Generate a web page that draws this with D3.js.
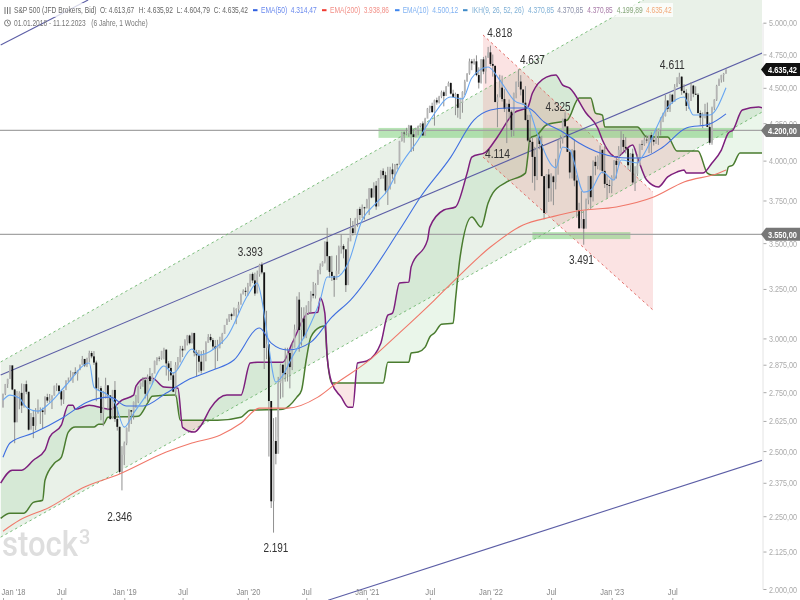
<!DOCTYPE html>
<html>
<head>
<meta charset="utf-8">
<script src="https://cdn.jsdelivr.net/npm/d3@7"></script>
<style>
  html, body { margin: 0; padding: 0; background: #fff; }
  svg { display: block; filter: blur(0.35px); }
  text { font-family: "Liberation Sans", Arial, sans-serif; }
</style>
</head>
<body>
<svg id="graph"></svg>
<script>
/* weekly bars, one entry per week, week 0 = 01.01.2018 */
var firstOpen = 2683;
var closes = [
  2743,2786,2810,2872,2762,2619,2732,2747,2691,2786,2752,2588,2641,2604,2656,2670,2670,2663,2728,2713,2721,2735,2779,2780,2755,2718,2759,2801,2802,2819,2840,2833,2850,2874,2902,2872,2905,2930,2914,2885,2767,2768,2659,2723,2781,2736,2633,2760,2633,2600,2417,2485,2532,
  2596,2671,2665,2707,2708,2776,2793,2804,2743,2822,2800,2834,2893,2907,2905,2940,2946,2881,2860,2826,2752,2873,2886,2950,2942,2990,3014,2977,3026,2932,2919,2889,2847,2926,2979,3007,2992,2961,2952,2970,2986,3022,3066,3093,3120,3110,3140,3146,3168,3221,3240,3235,
  3265,3330,3295,3226,3328,3380,3338,2954,2972,2711,2305,2541,2489,2790,2875,2837,2831,2930,2864,2955,3044,3194,3041,3098,3009,3130,3185,3224,3215,3271,3351,3372,3397,3508,3427,3341,3319,3298,3348,3477,3484,3465,3270,3510,3585,3558,3638,3699,3663,3709,3703,3756,
  3824,3768,3841,3714,3887,3934,3907,3811,3842,3943,3913,3975,3973,4129,4185,4180,4181,4233,4174,4156,4204,4230,4247,4166,4281,4352,4370,4327,4411,4395,4437,4468,4441,4509,4535,4458,4433,4455,4357,4391,4471,4545,4605,4697,4682,4697,4594,4538,4712,4620,4725,4766,
  4677,4663,4398,4432,4501,4419,4349,4385,4329,4204,4463,4543,4546,4488,4393,4272,4132,4123,4024,3901,4158,4109,3901,3675,3911,3825,3899,3863,3961,4130,4145,4280,4228,4057,3924,4067,3873,3693,3585,3639,3583,3752,3901,3770,3992,3965,4026,4071,3934,3852,3845,3839,
  3895,3999,3972,4070,4136,4090,4079,3970,4045,3861,3916,3970,4109,4105,4138,4133,4169,4136,4124,4192,4205,4282,4299,4409,4348,4450,4399,4505,4536,4582,4478,4464,4370,4406,4516,4457,4450,4320,4288,4309,4327,4224,4117,4358,4415,4514,4559,4594,4604,4635
];
var highs = [
  2743,2787,2810,2873,2835,2763,2755,2754,2789,2787,2802,2742,2659,2672,2680,2718,2683,2682,2732,2743,2742,2736,2779,2790,2775,2746,2760,2804,2816,2848,2841,2863,2851,2876,2916,2900,2908,2941,2939,2939,2894,2816,2778,2756,2815,2776,2691,2760,2800,2685,2601,2520,2539,
  2597,2675,2670,2709,2738,2776,2793,2818,2816,2830,2860,2836,2894,2910,2915,2940,2955,2946,2892,2892,2841,2887,2911,2964,2964,2996,3017,3018,3028,3028,2945,2944,2939,2944,2986,3021,3022,3002,2992,2993,3008,3027,3066,3098,3120,3127,3154,3150,3183,3226,3248,3258,
  3282,3330,3338,3337,3348,3385,3393,3338,3137,2882,2680,2637,2641,2819,2880,2875,2955,2955,2945,2980,3068,3211,3233,3155,3155,3165,3186,3238,3287,3280,3352,3387,3399,3510,3588,3425,3429,3320,3432,3486,3550,3494,3465,3530,3645,3628,3646,3699,3712,3726,3712,3760,
  3826,3824,3862,3870,3887,3938,3950,3929,3960,3960,3982,3978,3982,4130,4191,4195,4218,4238,4237,4210,4219,4234,4249,4262,4287,4356,4372,4393,4415,4429,4442,4480,4480,4513,4546,4540,4486,4465,4457,4429,4475,4559,4608,4718,4714,4717,4743,4652,4714,4731,4740,4808,
  4818,4749,4664,4453,4596,4590,4490,4386,4416,4340,4465,4546,4637,4593,4471,4512,4308,4307,4154,4090,4158,4178,4164,3837,3913,3946,3919,3904,4012,4140,4167,4280,4325,4203,4060,4076,4139,3906,3736,3807,3686,3762,3902,3905,4001,4028,4034,4100,4052,4100,3908,3878,
  3906,4004,4015,4095,4195,4176,4156,4050,4049,4078,3964,4039,4110,4134,4164,4170,4170,4187,4154,4212,4212,4290,4322,4448,4408,4458,4456,4527,4578,4611,4584,4527,4490,4460,4542,4521,4511,4462,4338,4324,4385,4394,4255,4365,4418,4522,4568,4596,4610,4636
];
var lows = [
  2683,2737,2769,2809,2759,2532,2622,2675,2659,2682,2741,2585,2594,2553,2586,2660,2612,2594,2652,2703,2704,2676,2735,2755,2742,2691,2698,2770,2796,2800,2792,2827,2802,2850,2877,2864,2864,2886,2905,2874,2710,2755,2628,2603,2722,2670,2631,2649,2621,2584,2409,2346,2444,
  2524,2580,2612,2631,2681,2702,2764,2774,2722,2705,2785,2785,2848,2873,2891,2898,2900,2825,2801,2805,2750,2729,2855,2887,2911,2954,2966,2971,2976,2914,2822,2840,2834,2856,2891,2979,2985,2946,2855,2892,2952,2973,3023,3066,3081,3091,3113,3070,3125,3183,3223,3212,
  3214,3263,3281,3214,3235,3315,3328,2855,2901,2478,2280,2191,2447,2558,2721,2727,2797,2798,2767,2850,2970,3039,2936,2965,2999,3001,3116,3127,3201,3200,3280,3328,3370,3387,3350,3310,3292,3209,3323,3329,3441,3415,3234,3279,3512,3543,3555,3594,3633,3645,3636,3703,
  3663,3764,3797,3694,3725,3882,3885,3789,3723,3817,3884,3853,3943,3991,4125,4118,4167,4157,4056,4062,4155,4167,4220,4164,4165,4287,4320,4320,4233,4379,4387,4425,4367,4450,4514,4452,4428,4305,4288,4278,4322,4447,4548,4596,4630,4672,4585,4495,4531,4600,4531,4725,
  4662,4582,4395,4222,4432,4401,4327,4115,4279,4157,4162,4424,4506,4445,4381,4267,4124,4062,3859,3811,3876,4074,3901,3637,3675,3741,3744,3722,3818,3910,4079,4112,4218,4057,3886,3886,3837,3647,3584,3636,3491,3590,3727,3699,3744,3906,3944,3938,3918,3827,3764,3795,
  3794,3877,3885,3968,4037,4061,4047,3943,3928,3846,3808,3901,3971,4069,4097,4114,4049,4048,4099,4109,4103,4166,4257,4296,4327,4328,4385,4403,4514,4527,4449,4458,4335,4350,4405,4432,4448,4317,4238,4216,4283,4223,4104,4104,4340,4405,4518,4538,4544,4605
];

/* indicators: week number + price */
var ema10Weeks = [0,3,7,10,15,20,27,37,39,45,48,52,56,62,69,73,81,84,91,96,105,109,111,113,117,120,124,130,136,139,143,148,154,160,165,170,178,184,192,197,201,208,213,219,225,229,237,240,243,249,252,257,262,265,272,274,285,292,296,303,310];
var ema10Values = [2715,2737,2724,2684,2667,2702,2781,2883,2772,2737,2702,2599,2658,2746,2869,2836,2949,2920,2954,3007,3218,3281,3192,3041,2795,2827,2911,3026,3192,3313,3313,3389,3633,3735,3814,3959,4136,4292,4434,4420,4572,4654,4557,4412,4362,4183,3953,4089,4069,3801,3814,3927,3876,4004,3985,4023,4362,4434,4306,4306,4500];
var ema50Weeks = [0,3,13,26,36,46,53,60,70,79,90,99,110,115,122,132,141,149,170,179,192,202,209,216,225,232,240,247,256,268,273,283,293,303,310];
var ema50Values = [2475,2533,2574,2641,2706,2728,2689,2689,2746,2804,2850,2897,3051,2977,2944,2982,3105,3192,3575,3771,4023,4272,4341,4355,4355,4258,4190,4116,4050,4017,4017,4089,4217,4244,4314];
var ema200Weeks = [0,7,20,34,50,70,81,93,102,110,122,135,143,156,170,185,195,209,223,235,246,263,279,292,307,310];
var ema200Values = [2196,2235,2283,2355,2409,2496,2533,2565,2615,2680,2680,2728,2791,2887,3027,3192,3313,3478,3604,3651,3687,3711,3771,3864,3920,3939];
var spanAWeeks = [-1,4,8,13,18,20,25,28,30,31,37,46,51,56,57,61,64,69,75,77,82,85,89,96,102,106,109,120,124,131,135,136,138,139,141,145,148,150,152,156,162,165,167,170,174,175,182,183,189,194,199,201,207,212,219,225,227,233,237,240,243,250,255,257,263,270,272,276,281,285,289,292,293,300,304,308,311,313,317,324,326];
var spanAValues = [2374,2424,2424,2463,2504,2557,2607,2693,2693,2675,2693,2675,2715,2737,2777,2813,2813,2773,2768,2598,2578,2607,2680,2737,2737,2883,2887,2887,2977,3125,3130,3203,3125,2911,2791,2728,2684,2684,2883,2892,2977,3115,3125,3281,3286,3368,3517,3592,3693,3711,3920,4023,4056,4156,4320,4362,4462,4579,4595,4520,4498,4320,4217,4136,4023,4103,4023,3876,3833,3896,3927,3940,3920,3920,3985,4069,4183,4203,4341,4362,4355];
var spanBWeeks = [-1,3,9,13,17,18,22,25,28,31,39,41,43,45,58,62,64,74,76,92,102,106,120,126,128,130,132,136,138,139,141,163,165,174,175,178,181,183,185,188,193,194,196,201,205,208,210,216,224,225,226,229,233,242,247,252,254,257,258,272,276,285,289,298,302,304,310,311,313,316,326];
var spanBValues = [2242,2261,2261,2301,2309,2385,2451,2475,2578,2599,2599,2611,2611,2641,2645,2702,2732,2737,2628,2628,2641,2671,2675,2728,2759,2897,3007,3056,3061,2911,2791,2791,2887,2887,2930,2935,2958,3007,3026,3070,3075,3192,3423,3651,3592,3735,3795,3864,3920,4023,4149,4170,4237,4272,4427,4427,4320,4306,4224,4224,4156,4156,4063,4063,3920,3908,3908,3959,3972,4050,4050];

/* trend lines and channels: start week, end week, start price, end price */
var channelWeeks = [-1,325.5];
var channelTop = [2888,5781];
var channelBottom = [2175,4327];
var midLine = [2827,4761];
var upperLineWeeks = [-1,36.5];
var upperLine = [4823,5187];
var lowerLineWeeks = [139.4,325.5];
var lowerLine = [1964,2463];
/* the falling channel from the 4.818 high */
var fallWeeks = [205.8,278.7];
var fallTop = [4902,3801];
var fallBottom = [4023,3141];

var supportLevels = [4200,3550];
var zoneWeeks = [[161,313],[227,269]];
var zonePrices = [[4217,4150],[3563,3523]];

var yTicks = [5000,4750,4500,4250,4000,3750,3500,3250,3000,2875,2750,2625,2500,2375,2250,2125,2000];
var yTickLabels = ["5.000,00","4.750,00","4.500,00","4.250,00","4.000,00","3.750,00","3.500,00","3.250,00","3.000,00","2.875,00","2.750,00","2.625,00","2.500,00","2.375,00","2.250,00","2.125,00","2.000,00"];
var xTicks = [0,25,52,77,105,130,156,183,209,235,261,287];
var xTickLabels = ["Jan '18","Jul","Jan '19","Jul","Jan '20","Jul","Jan '21","Jul","Jan '22","Jul","Jan '23","Jul"];

var peakLabels = ["4.818","4.637","4.325","4.114","3.491","4.611","3.393","2.346","2.191"];
var peakWeeks = [213,227,238,212,248,287,106,50,117];
var peakPrices = [4885,4677,4334,4017,3384,4640,3428,2231,2123];

var width = 800, height = 600, plotRight = 762;

var svg = d3.select("#graph").attr("width", width).attr("height", height);

var x = d3.scaleLinear().domain([0, 310]).range([3, 726]);
var y = d3.scaleLog().domain([2000, 5000]).range([589, 22.7]);

var defs = svg.append("defs");
defs.append("clipPath").attr("id", "plot")
    .append("rect").attr("width", plotRight).attr("height", height);

var plot = svg.append("g").attr("clip-path", "url(#plot)");

function pairs(weeks, values) {
    return weeks.map(function(w, i) { return [w, values[i]]; });
}

var line = d3.line()
    .x(function(d) { return x(d[0]); })
    .y(function(d) { return y(d[1]); });
var curve = d3.line()
    .curve(d3.curveMonotoneX)
    .x(function(d) { return x(d[0]); })
    .y(function(d) { return y(d[1]); });

/* the reference is a squeezed screenshot, so text gets narrowed to the measured width */
function squeeze(node, target) {
    var sel = d3.select(node),
        px = +sel.attr("x") || 0,
        py = +sel.attr("y") || 0,
        k = target / node.getComputedTextLength();
    var old = sel.attr("transform");
    sel.attr("transform", (old ? old + " " : "") + "translate(" + px + "," + py + ") scale(" + k + ",1) translate(" + (-px) + "," + (-py) + ")");
}

/* channel background */
plot.append("path")
    .attr("d", line(pairs(channelWeeks, channelTop).concat(pairs(channelWeeks, channelBottom).reverse())))
    .attr("fill", "#e9f1e8");

/* ichimoku cloud: each colour is its span area cut by the other span */
var spanA = pairs(spanAWeeks, spanAValues);
var spanB = pairs(spanBWeeks, spanBValues);

function below(d) {
    return d3.area().curve(d3.curveMonotoneX).x(function(p) { return x(p[0]); }).y0(height).y1(function(p) { return y(p[1]); })(d);
}
function above(d) {
    return d3.area().curve(d3.curveMonotoneX).x(function(p) { return x(p[0]); }).y0(-100).y1(function(p) { return y(p[1]); })(d);
}
defs.append("clipPath").attr("id", "aboveB").append("path").attr("d", above(spanB));
defs.append("clipPath").attr("id", "aboveA").append("path").attr("d", above(spanA));

plot.append("g").attr("clip-path", "url(#aboveB)")
    .append("path").attr("d", below(spanA)).attr("fill", "#5cb85c").attr("fill-opacity", 0.13);
plot.append("g").attr("clip-path", "url(#aboveA)")
    .append("path").attr("d", below(spanB)).attr("fill", "#e57373").attr("fill-opacity", 0.18);

/* falling channel */
plot.append("path")
    .attr("d", line(pairs(fallWeeks, fallTop).concat(pairs(fallWeeks, fallBottom).reverse())))
    .attr("fill", "#e8534f").attr("fill-opacity", 0.16);
[fallTop, fallBottom].forEach(function(p) {
    plot.append("path").attr("d", line(pairs(fallWeeks, p)))
        .attr("fill", "none").attr("stroke", "#e0605a").attr("stroke-dasharray", "2.5,3").attr("stroke-width", 0.9);
});

/* support zones */
zoneWeeks.forEach(function(w, i) {
    plot.append("rect")
        .attr("x", x(w[0]))
        .attr("y", y(zonePrices[i][0]))
        .attr("width", x(w[1]) - x(w[0]))
        .attr("height", y(zonePrices[i][1]) - y(zonePrices[i][0]))
        .attr("fill", "#7ed07a").attr("fill-opacity", 0.55);
});

/* horizontal levels */
plot.selectAll(".level")
  .data(supportLevels)
  .enter().append("line")
    .attr("class", "level")
    .attr("x1", 0).attr("x2", plotRight)
    .attr("y1", function(d) { return y(d); })
    .attr("y2", function(d) { return y(d); })
    .attr("stroke", "#a4a4a4").attr("stroke-width", 1.3);

/* dashed channel edges and the blue trend lines */
[channelTop, channelBottom].forEach(function(p) {
    plot.append("path").attr("d", line(pairs(channelWeeks, p)))
        .attr("fill", "none").attr("stroke", "#6db56d").attr("stroke-dasharray", "2.5,3").attr("stroke-width", 0.9);
});
[[channelWeeks, midLine], [upperLineWeeks, upperLine], [lowerLineWeeks, lowerLine]].forEach(function(p) {
    plot.append("path").attr("d", line(pairs(p[0], p[1])))
        .attr("fill", "none").attr("stroke", "#5c5ea6").attr("stroke-width", 1.1);
});

/* cloud border lines */
plot.append("path").attr("d", curve(spanB))
    .attr("fill", "none").attr("stroke", "#4a7c2f").attr("stroke-width", 1.5);
plot.append("path").attr("d", curve(spanA))
    .attr("fill", "none").attr("stroke", "#7d1f7d").attr("stroke-width", 1.5);

/* candles */
var candles = closes.map(function(c, i) {
    return { week: i, open: i == 0 ? firstOpen : closes[i - 1], close: c, high: highs[i], low: lows[i] };
});

plot.selectAll(".wick")
  .data(candles)
  .enter().append("line")
    .attr("class", "wick")
    .attr("x1", function(d) { return x(d.week); })
    .attr("x2", function(d) { return x(d.week); })
    .attr("y1", function(d) { return y(d.high); })
    .attr("y2", function(d) { return y(d.low); })
    .attr("stroke", "#909090").attr("stroke-width", 1);

plot.selectAll(".body")
  .data(candles)
  .enter().append("rect")
    .attr("class", "body")
    .attr("x", function(d) { return x(d.week) - 0.9; })
    .attr("width", 1.8)
    .attr("y", function(d) { return y(Math.max(d.open, d.close)); })
    .attr("height", function(d) { return Math.max(0.6, Math.abs(y(d.open) - y(d.close))); })
    .attr("fill", function(d) { return d.close < d.open ? "#111" : "#b4b4b4"; });

/* moving averages */
plot.append("path").attr("d", curve(pairs(ema200Weeks, ema200Values)))
    .attr("fill", "none").attr("stroke", "#f0786a").attr("stroke-width", 1.1);
plot.append("path").attr("d", curve(pairs(ema50Weeks, ema50Values)))
    .attr("fill", "none").attr("stroke", "#3f6fe0").attr("stroke-width", 1.1);
plot.append("path").attr("d", curve(pairs(ema10Weeks, ema10Values)))
    .attr("fill", "none").attr("stroke", "#68a6f2").attr("stroke-width", 1.1);

/* right axis */
var yaxis = svg.append("g")
    .attr("class", "axis axis--y")
    .attr("transform", "translate(" + (plotRight + 0.5) + ",0)")
    .call(d3.axisRight(y).tickValues(yTicks).tickSize(3).tickPadding(3)
        .tickFormat(function(d, i) { return yTickLabels[i]; }));
yaxis.attr("font-family", null);
yaxis.select(".domain").attr("stroke", "#e4e4e4");
yaxis.selectAll("line").attr("stroke", "#aaa").attr("x1", 1).attr("x2", 4);
yaxis.selectAll("text")
    .attr("x", 6.5)
    .attr("fill", "#aaa")
    .style("font-size", "9.5px")
    .each(function() { squeeze(this, 28); });

/* bottom axis */
var xaxis = svg.append("g")
    .attr("class", "axis axis--x")
    .attr("transform", "translate(0,586)")
    .call(d3.axisBottom(x).tickValues(xTicks).tickSize(0).tickPadding(2)
        .tickFormat(function(d, i) { return xTickLabels[i]; }));
xaxis.attr("font-family", null);
xaxis.select(".domain").remove();
xaxis.selectAll("text")
    .attr("fill", "#888")
    .style("font-size", "9.5px")
    .attr("x", function(d, i) { return i == 0 ? 10 : 0; })
    .each(function(d, i) { squeeze(this, xTickLabels[i].length > 3 ? 24 : 10); });
xaxis.selectAll("line").remove();
xaxis.selectAll(".tick").append("line")
    .attr("y1", 12).attr("y2", 14).attr("stroke", "#aaa");

/* text squeezed to the width measured in the picture */
function squeezed(x1, x2, yPos, str, color) {
    var t = svg.append("text")
        .attr("x", x1).attr("y", yPos)
        .attr("fill", color)
        .style("font-size", "9.5px")
        .text(str);
    squeeze(t.node(), x2 - x1);
    return t;
}

/* high / low labels */
plot.selectAll(".peak")
  .data(peakLabels)
  .enter().append("text")
    .attr("class", "peak")
    .attr("x", function(d, i) { return x(peakWeeks[i]); })
    .attr("y", function(d, i) { return y(peakPrices[i]); })
    .attr("text-anchor", "middle")
    .attr("fill", "#333")
    .style("font-size", "13.5px")
    .text(function(d) { return d; })
    .each(function() { squeeze(this, 25); });

/* watermark */
var mark = svg.append("text").attr("x", 2).attr("y", 556)
    .attr("fill", "#dedede")
    .style("font-family", "Roboto, sans-serif").style("font-size", "36px").style("font-weight", 500)
    .text("stock");
squeeze(mark.node(), 76);
svg.append("text").attr("x", 79).attr("y", 544)
    .attr("fill", "#dedede")
    .style("font-family", "Roboto, sans-serif").style("font-size", "20px").style("font-weight", 500)
    .text("3");

/* legend */
svg.append("rect").attr("x", 0).attr("y", 3).attr("width", 673).attr("height", 14)
    .attr("fill", "#fff").attr("fill-opacity", 0.75);

var legendY = 13.5;
squeezed(14, 96.7, legendY, "S&P 500 (JFD Brokers, Bid)", "#666");
squeezed(100, 134.3, legendY, "O: 4.613,67", "#666");
squeezed(138.7, 173, legendY, "H: 4.635,92", "#666");
squeezed(176.7, 210, legendY, "L: 4.604,79", "#666");
squeezed(213.7, 248, legendY, "C: 4.635,42", "#666");

var legendDashes = [[253, "#2f5fe0"], [322, "#f03a30"], [395, "#3f86ee"], [463, "#3f8ac8"]];
legendDashes.forEach(function(d) {
    svg.append("rect").attr("x", d[0]).attr("y", 9.2).attr("width", 4.5).attr("height", 2).attr("fill", d[1]);
});
squeezed(261, 287.3, legendY, "EMA(50)", "#6a8aee");
squeezed(290.7, 316.7, legendY, "4.314,47", "#6a8aee");
squeezed(330, 360.3, legendY, "EMA(200)", "#f29088");
squeezed(363.7, 389, legendY, "3.938,86", "#f29088");
squeezed(402.7, 428.7, legendY, "EMA(10)", "#80b2f2");
squeezed(432.3, 458.3, legendY, "4.500,12", "#80b2f2");
squeezed(472, 524, legendY, "IKH(9, 26, 52, 26)", "#7fb0d6");
squeezed(528, 554, legendY, "4.370,85", "#7fb0d6");
squeezed(557.3, 583.3, legendY, "4.370,85", "#8a8fa8");
squeezed(587.3, 612.7, legendY, "4.370,85", "#a678a6");
squeezed(616.7, 642.7, legendY, "4.199,89", "#86a67a");
squeezed(646, 671.7, legendY, "4.635,42", "#f2a878");

squeezed(14, 85.7, 26.5, "01.01.2018 - 11.12.2023", "#777");
squeezed(91.3, 147.7, 26.5, "(6 Jahre, 1 Woche)", "#777");

/* small icons */
svg.append("circle").attr("cx", 7.5).attr("cy", 23).attr("r", 3)
    .attr("fill", "none").attr("stroke", "#666").attr("stroke-width", 0.8);
svg.append("path").attr("d", "M7.5 21V23L9 24").attr("fill", "none").attr("stroke", "#666").attr("stroke-width", 0.7);
svg.append("path").attr("d", "M5 7V14M7.5 7V14M10 7V14").attr("fill", "none").attr("stroke", "#777").attr("stroke-width", 1);

/* price tags */
function tag(price, str, color, textColor) {
    var py = y(price);
    svg.append("path")
        .attr("d", "M761 " + py + "L766 " + (py - 6.5) + "H800V" + (py + 6.5) + "H766Z")
        .attr("fill", color);
    var t = svg.append("text").attr("x", 768).attr("y", py + 3.5)
        .attr("fill", textColor)
        .style("font-size", "9.5px").style("font-weight", "bold")
        .text(str);
    squeeze(t.node(), 29);
}
var tagPrices = [4635.42, 4200, 3550];
var tagLabels = ["4.635,42", "4.200,00", "3.550,00"];
var tagColors = ["#111", "#777", "#777"];
tagPrices.forEach(function(p, i) { tag(p, tagLabels[i], tagColors[i], "#fff"); });
</script>
</body>
</html>
